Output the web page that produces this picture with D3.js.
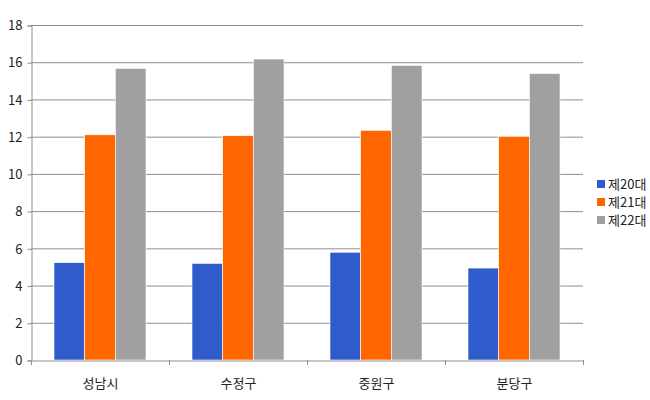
<!DOCTYPE html>
<html><head><meta charset="utf-8">
<script src="https://cdn.jsdelivr.net/npm/d3@7"></script>
<style>body{margin:0;background:#fff}svg{display:block}text{font-family:"Noto Sans CJK KR","Noto Sans",sans-serif;fill:#222}</style>
</head><body><svg id="c" width="650" height="400"></svg>
<script>
const categories = ["성남시","수정구","중원구","분당구"];
const seriesNames = ["제20대","제21대","제22대"];
const s20 = [5.23, 5.19, 5.79, 4.94];
const s21 = [12.1, 12.05, 12.34, 12.02];
const s22 = [15.67, 16.17, 15.83, 15.39];
const yTicks = [0,2,4,6,8,10,12,14,16,18];
const colors = ["#305BCC","#FF6600","#A0A0A0"];

(function(){
const series = [s20, s21, s22];
const svg = d3.select("#c");
const pL = 31, pR = 583, pT = 25, pB = 360;
const x = d3.scaleBand().domain(categories).range([pL, pR]).paddingInner(0).paddingOuter(0);
const xi = d3.scaleBand().domain(seriesNames).range([0, x.bandwidth()]).paddingInner(0).paddingOuter(0.75);
const y = d3.scaleLinear().domain([0,18]).range([pB, pT]);

svg.append("g").selectAll("line").data(yTicks.filter(d=>d>0)).join("line")
  .attr("x1", pL).attr("x2", pR).attr("y1", d=>y(d)+0.5).attr("y2", d=>y(d)+0.5)
  .attr("stroke", "#8f8f8f").attr("stroke-width", 1);

const g = svg.append("g");
categories.forEach((c, ci) => {
  series.forEach((s, si) => {
    g.append("rect")
      .attr("x", x(c) + xi(seriesNames[si]))
      .attr("y", y(s[ci]))
      .attr("width", xi.bandwidth())
      .attr("height", y(0) - y(s[ci]))
      .attr("fill", colors[si])
      .attr("stroke", "#fff").attr("stroke-width", 0.6);
  });
});

const ya = svg.append("g").attr("transform", `translate(${pL+0.5},0.5)`)
  .call(d3.axisLeft(y).tickValues(yTicks).tickSize(4).tickFormat(d3.format("d")));
ya.select(".domain").attr("stroke", "#8f8f8f");
ya.selectAll(".tick line").attr("stroke", "#8f8f8f");
ya.selectAll("text").attr("font-size", 13).attr("x", -9).style("font-family", '"Noto Sans CJK KR",sans-serif').attr("fill","#222");

const xa = svg.append("g").attr("transform", `translate(0.5,${pB+0.5})`)
  .call(d3.axisBottom(x).tickSize(0).tickPadding(18));
xa.select(".domain").attr("stroke", "#8f8f8f");
xa.selectAll("text").attr("font-size", 13).style("font-family", '"Noto Sans CJK KR",sans-serif').attr("fill","#222");
const bounds = categories.map(c => x(c)).concat([pR]);
svg.append("g").selectAll("line").data(bounds).join("line")
  .attr("x1", d=>d+0.5).attr("x2", d=>d+0.5).attr("y1", pB).attr("y2", pB+5)
  .attr("stroke", "#8f8f8f");

const lg = svg.append("g").attr("transform", "translate(597,184)");
seriesNames.forEach((n, i) => {
  const r = lg.append("g").attr("transform", `translate(0,${i*18})`);
  r.append("rect").attr("x", 0).attr("y", -4).attr("width", 8).attr("height", 8).attr("fill", colors[i]);
  r.append("text").attr("x", 11).attr("y", 0).attr("dy", "0.35em").attr("font-size", 13).text(n);
});
})();
</script></body></html>
